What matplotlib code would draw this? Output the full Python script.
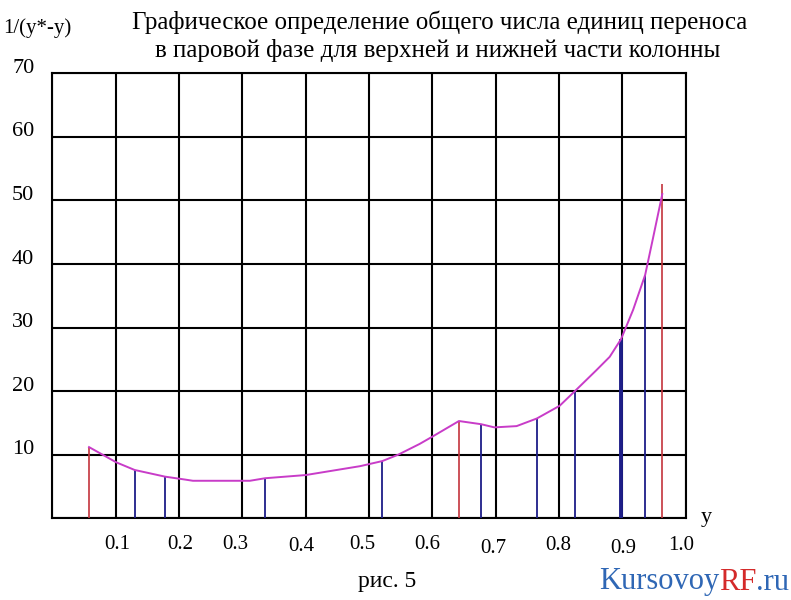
import matplotlib
matplotlib.use("Agg")
import matplotlib.pyplot as plt
import matplotlib.transforms as mtransforms

# curve 1/(y*-y)
curve_y = [0.058, 0.101, 0.130, 0.178, 0.209, 0.222, 0.312, 0.336, 0.400, 0.486,
           0.521, 0.546, 0.580, 0.601, 0.642, 0.677, 0.698, 0.733, 0.765, 0.801,
           0.825, 0.859, 0.880, 0.898, 0.917, 0.936, 0.948, 0.963]
curve_f = [11.2, 8.8, 7.6, 6.55, 6.1, 5.9, 5.9, 6.3, 6.8, 8.2,
           9.0, 10.0, 11.7, 12.9, 15.3, 14.8, 14.3, 14.5, 15.7, 17.7,
           20.0, 23.3, 25.4, 28.2, 32.8, 38.3, 43.9, 51.0]

# ordinates (red - section limits, blue - intermediate)
red_x = [0.058, 0.642, 0.963]
red_h = [11.2, 15.3, 52.6]
blue_x = [0.130, 0.178, 0.336, 0.521, 0.677, 0.765, 0.825, 0.898, 0.936]
blue_h = [7.6, 6.55, 6.3, 9.0, 14.8, 15.7, 20.0, 28.2, 38.2]
blue_w = [1.3, 1.3, 1.3, 1.3, 1.3, 1.3, 1.3, 2.8, 1.3]

x_ticks = [0.1, 0.2, 0.3, 0.4, 0.5, 0.6, 0.7, 0.8, 0.9, 1.0]
x_labels = ["0.1", "0.2", "0.3", "0.4", "0.5", "0.6", "0.7", "0.8", "0.9", "1.0"]
y_ticks = [10, 20, 30, 40, 50, 60, 70]

# the labels in the source drawing are a bit off their grid lines (pixels)
x_nudge = [2, 1, -7, -4, -7, -5, -2, -1, 1, -5]
x_drop = [26, 26, 26, 28, 26, 26, 30, 27, 30, 27]

serif = "Liberation Serif"

fig = plt.figure(figsize=(7.91, 6.0), dpi=100)
ax = fig.add_axes([0.0661, 0.1362, 0.8008, 0.7416])

ax.set_xlim(0, 1.0)
ax.set_ylim(0, 70)
ax.set_xticks([i / 10 for i in range(11)])
ax.set_yticks(range(0, 71, 10))
ax.grid(True, color="black", linewidth=1.5)
ax.tick_params(length=0, labelbottom=False, labelleft=False)
for s in ax.spines.values():
    s.set_color("black")
    s.set_linewidth(1.5)

for x, h in zip(red_x, red_h):
    ax.vlines(x, 0, h, color="#c3343c", linewidth=1.2, zorder=3)
for x, h, w in zip(blue_x, blue_h, blue_w):
    ax.vlines(x, 0, h, color="#1e1e88", linewidth=w, zorder=3)

ax.plot(curve_y, curve_f, color="#c83cc8", linewidth=1.4, zorder=4)

for t, lab, dx, dy in zip(x_ticks, x_labels, x_nudge, x_drop):
    off = mtransforms.offset_copy(ax.get_xaxis_transform(), fig=fig, x=dx, y=-dy, units="dots")
    ax.text(t, 0, lab, transform=off, ha="center", va="center",
            fontsize=15, family=serif)
for t in y_ticks:
    off = mtransforms.offset_copy(ax.get_yaxis_transform(), fig=fig, x=-18, y=5, units="dots")
    ax.text(0, t, str(t), transform=off, ha="right", va="center",
            fontsize=16, family=serif)

fig.text(0.004, 0.945, "1/(y*-y)", ha="left", va="baseline", fontsize=15, family=serif)
fig.text(0.556, 0.952, "Графическое определение общего числа единиц переноса",
         ha="center", va="baseline", fontsize=18, family=serif)
fig.text(0.553, 0.905, "в паровой фазе для верхней и нижней части колонны",
         ha="center", va="baseline", fontsize=18, family=serif)
fig.text(0.893, 0.138, "y", ha="center", va="center", fontsize=16, family=serif)
fig.text(0.489, 0.03, "рис. 5", ha="center", va="center", fontsize=17, family=serif)

# watermark
wm = fig.text(0.757, 0.03, "Kursovoy", ha="left", va="center", fontsize=22,
              family=serif, color="#2f67b5")
fig.canvas.draw()
bb = wm.get_window_extent()
wm2 = fig.text(bb.x1 / fig.dpi / 7.91, 0.03, "RF", ha="left", va="center",
               fontsize=22, family=serif, color="#d42a2a")
bb2 = wm2.get_window_extent()
fig.text(bb2.x1 / fig.dpi / 7.91, 0.03, ".ru", ha="left", va="center",
         fontsize=22, family=serif, color="#2f67b5")

fig.savefig("out.png", dpi=100)
